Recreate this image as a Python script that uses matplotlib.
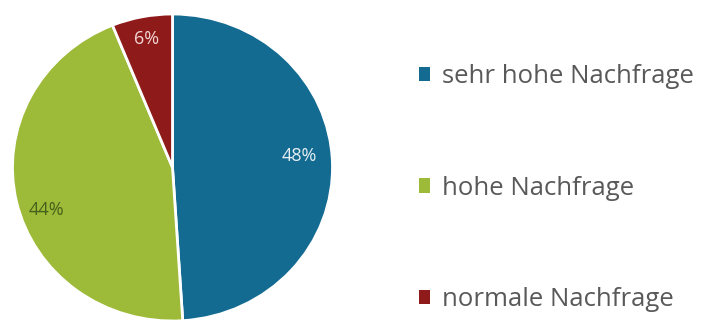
import matplotlib
matplotlib.use("Agg")
import matplotlib.pyplot as plt
from matplotlib.patches import Patch

categories = ["sehr hohe Nachfrage", "hohe Nachfrage", "normale Nachfrage"]
values = [48, 44, 6]
pct_labels = ["48%", "44%", "6%"]
colors = ["#146B92", "#9DBA38", "#8F1A1A"]
label_colors = ["#E8F0F4", "#45601C", "#F2D6D6"]

W, H = 708, 322
fig = plt.figure(figsize=(W / 100, H / 100), dpi=100)
plt.rcParams['font.family'] = ['Open Sans', 'DejaVu Sans']

# pie axes: ellipse spanning x 12.5..332.5 px, y 14..322 px
ax = fig.add_axes([12.5 / W, (H - 321) / H, 320 / W, 307 / H])
wedges, _ = ax.pie(values, colors=colors, startangle=90, counterclock=False,
                   wedgeprops=dict(edgecolor="white", linewidth=2))
ax.set_aspect('auto')
ax.set_xlim(-1, 1)
ax.set_ylim(-1, 1)
ax.axis('off')

label_pos = [(0.79, 0.078), (-0.79, -0.278), (-0.16, 0.84)]
for t, (x, y), c in zip(pct_labels, label_pos, label_colors):
    ax.text(x, y, t, ha='center', va='center', fontsize=13, color=c)

handles = [Patch(facecolor=c, edgecolor='none') for c in colors]
leg = fig.legend(handles, categories, loc='upper left',
                 bbox_to_anchor=(419 / W, 1 - 64 / H),
                 frameon=False, fontsize=18.5, labelspacing=3.37,
                 handlelength=0.43, handleheight=0.47, handletextpad=0.47,
                 borderaxespad=0, borderpad=0)
for txt in leg.get_texts():
    txt.set_color("#595959")

fig.savefig("out.png", dpi=100)
